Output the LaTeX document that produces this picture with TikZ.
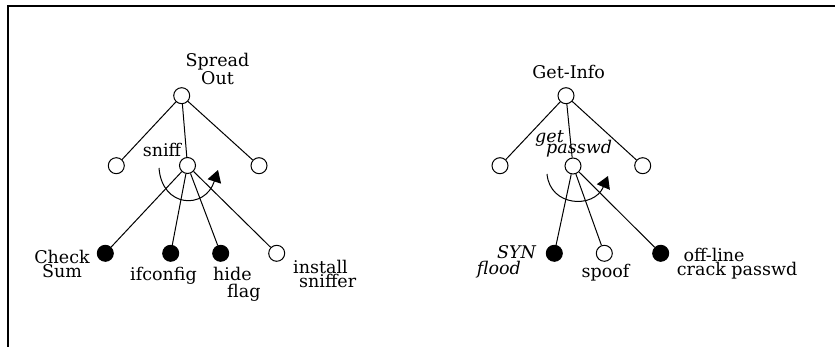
\documentclass[tikz,border=0pt]{standalone}
\usepackage{fontspec}
\setmainfont{DejaVu Serif}
\usetikzlibrary{arrows.meta}
\begin{document}
\begin{tikzpicture}[x=1pt,y=-1pt,
  opennode/.style={circle,draw,line width=1pt,minimum size=16pt,inner sep=0pt,fill=white},
  fullnode/.style={opennode,fill=black},
  edge/.style={line width=1pt},
  frame/.style={line width=2pt},
  turn/.style={line width=1pt,-{Triangle[length=12pt,width=14pt]}},
  lbl/.style={inner sep=0pt},
  sz/.style={font={\fontsize{17.5}{#1}\selectfont\lineskiplimit=-100pt\lineskip=0pt}}]
\useasboundingbox (0,0) rectangle (835,347);
% frame
\coordinate (f1) at (835,6);
\coordinate (f2) at (8,6);
\coordinate (f3) at (8,347);
\draw[frame] (f1) -- (f2) -- (f3);

% left tree
\node[opennode] (r1) at (181.7,95.7) {};
\node[opennode] (a1) at (116.3,165.7) {};
\node[opennode] (a2) at (187.5,165.5) {};
\node[opennode] (a3) at (259,165.7) {};
\node[fullnode] (b1) at (105.3,253.3) {};
\node[fullnode] (b2) at (170.7,253.3) {};
\node[fullnode] (b3) at (220.7,253.3) {};
\node[opennode] (b4) at (276.7,253.3) {};
\draw[edge] (r1) -- (a1);
\draw[edge] (r1) -- (a2);
\draw[edge] (r1) -- (a3);
\draw[edge] (a2) -- (b1);
\draw[edge] (a2) -- (b2);
\draw[edge] (a2) -- (b3);
\draw[edge] (a2) -- (b4);
\coordinate (s1) at (159,168);
\coordinate (e1) at (218,170);
\draw[turn] (s1) .. controls (162,208) and (205,210) .. (e1);

% right tree
\node[opennode] (r2) at (566,95.7) {};
\node[opennode] (c1) at (500,165.7) {};
\node[opennode] (c2) at (573,166) {};
\node[opennode] (c3) at (642.7,165.7) {};
\node[fullnode] (d1) at (554.3,253.3) {};
\node[opennode] (d2) at (604.3,253.3) {};
\node[fullnode] (d3) at (660.7,253.3) {};
\draw[edge] (r2) -- (c1);
\draw[edge] (r2) -- (c2);
\draw[edge] (r2) -- (c3);
\draw[edge] (c2) -- (d1);
\draw[edge] (c2) -- (d2);
\draw[edge] (c2) -- (d3);
\coordinate (s2) at (547,174);
\coordinate (e2) at (608,176);
\draw[turn] (s2) .. controls (550,207) and (594,209) .. (e2);

% labels left (multi-line nodes: base = baseline of last line)
\node[lbl,sz=18,anchor=base,align=center] (t1) at (217.5,85) {Spread\\Out};
\node[lbl,sz=18,anchor=base] (t2) at (162,157) {sniff};
\node[lbl,sz=14.4,anchor=base,align=center] (t3) at (62,277.7) {Check\\Sum};
\node[lbl,sz=18,anchor=base] (t4) at (163.5,280) {ifconfig};
\node[lbl,sz=16.7,anchor=base west,align=left] (t5) at (213,297.7) {hide\\\hspace*{14pt}flag};
\node[lbl,sz=14,anchor=base west,align=left] (t6) at (293,287.3) {install\\\hspace*{6pt}sniffer};

% labels right
\node[lbl,sz=18,anchor=base] (u1) at (568.7,79) {Get-Info};
\node[lbl,sz=11,anchor=base west,align=left] (u2) at (535,154) {\itshape get\\\itshape\hspace*{11pt}passwd};
\node[lbl,sz=16.7,anchor=base west,align=left] (u3) at (476.7,275) {\itshape\hspace*{20.3pt}SYN\\\itshape flood};
\node[lbl,sz=18,anchor=base] (u4) at (605.5,277) {spoof};
\node[lbl,sz=14.3,anchor=base west,align=left] (u5) at (676.7,276) {\hspace*{6.6pt}off-line\\crack passwd};
\end{tikzpicture}
\end{document}
